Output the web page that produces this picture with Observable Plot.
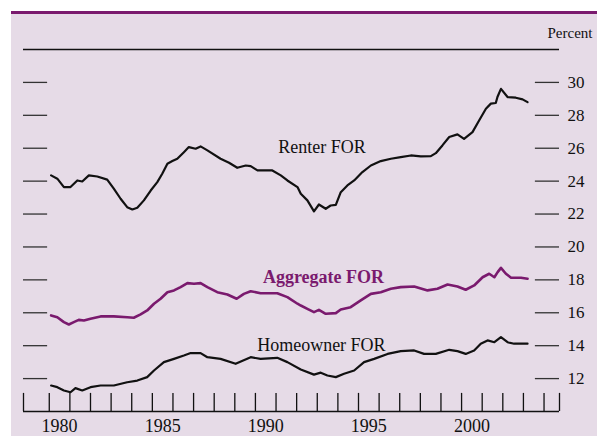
<!DOCTYPE html>
<html>
<head>
<meta charset="utf-8">
<script src="https://cdn.jsdelivr.net/npm/d3@7"></script>
<script src="https://cdn.jsdelivr.net/npm/@observablehq/plot@0.6"></script>
<style>
  html, body { margin: 0; padding: 0; background: #ffffff; width: 597px; height: 436px; overflow: hidden; }
  #panel { position: absolute; left: 11px; top: 11px; right: 0; bottom: 0; background: #e6dbe7; border-top: 3px solid #7a1a6e; }
  #chart { position: absolute; left: 0; top: 0; }
</style>
</head>
<body>
<div id="panel"></div>
<div id="chart"></div>
<script>
const renterYears = [1980.09,1980.39,1980.71,1981.03,1981.36,1981.6,1981.92,1982.33,1982.81,1983.13,1983.46,1983.78,1984.03,1984.27,1984.59,1984.92,1985.24,1985.48,1985.73,1985.97,1986.21,1986.53,1986.77,1987.1,1987.34,1987.67,1988.31,1988.72,1989.12,1989.53,1989.77,1990.1,1990.82,1991.23,1991.55,1992.04,1992.2,1992.52,1992.84,1993.08,1993.41,1993.65,1993.9,1994.14,1994.46,1994.79,1995.19,1995.6,1996.08,1996.57,1997.05,1997.54,1998.02,1998.51,1998.75,1999.07,1999.4,1999.8,2000.12,2000.53,2000.85,2001.18,2001.42,2001.66,2001.74,2001.91,2002.23,2002.63,2002.96,2003.2];
const renterValues = [24.35,24.15,23.64,23.64,24.04,23.98,24.35,24.28,24.09,23.54,22.93,22.42,22.28,22.38,22.83,23.43,23.94,24.45,25.06,25.22,25.36,25.76,26.07,25.97,26.11,25.87,25.36,25.12,24.81,24.95,24.91,24.65,24.65,24.35,24.04,23.64,23.23,22.83,22.16,22.58,22.32,22.52,22.56,23.33,23.74,24.04,24.55,24.95,25.22,25.36,25.46,25.56,25.5,25.52,25.7,26.17,26.68,26.84,26.57,26.98,27.69,28.4,28.71,28.75,29.11,29.61,29.11,29.07,28.97,28.8];

const aggregateYears = [1980.09,1980.39,1980.71,1980.95,1981.19,1981.43,1981.68,1982.0,1982.49,1983.13,1983.78,1984.1,1984.43,1984.75,1985.08,1985.4,1985.73,1986.05,1986.37,1986.7,1987.02,1987.34,1987.67,1988.15,1988.64,1989.09,1989.44,1989.77,1990.25,1991.06,1991.55,1992.04,1992.2,1992.52,1992.84,1993.08,1993.41,1993.9,1994.14,1994.62,1995.11,1995.6,1996.08,1996.57,1997.05,1997.7,1998.35,1998.83,1999.32,1999.8,2000.2,2000.61,2001.02,2001.34,2001.59,2001.75,2001.91,2002.15,2002.4,2002.88,2003.2];
const aggregateValues = [15.84,15.73,15.43,15.29,15.43,15.57,15.53,15.64,15.78,15.78,15.73,15.7,15.9,16.14,16.55,16.85,17.25,17.36,17.56,17.8,17.76,17.8,17.56,17.25,17.11,16.85,17.15,17.31,17.19,17.19,16.95,16.55,16.44,16.24,16.04,16.18,15.94,15.98,16.2,16.34,16.75,17.15,17.25,17.46,17.56,17.6,17.36,17.46,17.72,17.6,17.4,17.66,18.16,18.37,18.16,18.47,18.73,18.37,18.13,18.13,18.07];

const homeownerYears = [1980.09,1980.39,1980.71,1981.03,1981.27,1981.6,1982.0,1982.49,1983.13,1983.78,1984.27,1984.75,1985.08,1985.56,1986.05,1986.53,1986.86,1987.34,1987.67,1988.31,1989.04,1989.77,1990.25,1991.06,1991.55,1992.2,1992.84,1993.17,1993.49,1993.9,1994.3,1994.79,1995.27,1995.76,1996.41,1997.05,1997.7,1998.18,1998.75,1999.4,1999.8,2000.2,2000.61,2000.93,2001.26,2001.59,2001.91,2002.23,2002.55,2003.2];
const homeownerValues = [11.58,11.48,11.28,11.17,11.42,11.28,11.48,11.58,11.58,11.78,11.88,12.09,12.49,13.0,13.2,13.4,13.55,13.55,13.3,13.2,12.9,13.3,13.2,13.26,13.0,12.55,12.24,12.36,12.19,12.09,12.29,12.49,13.0,13.2,13.5,13.67,13.71,13.5,13.5,13.75,13.67,13.5,13.71,14.12,14.32,14.21,14.52,14.21,14.12,14.12];

const yTicks = [12,14,16,18,20,22,24,26,28,30];
const xTickYears = d3.range(1980, 2005);
const xLabelYears = [1980, 1985, 1990, 1995, 2000];
const seriesLabels = ["Renter FOR", "Aggregate FOR", "Homeowner FOR"];
const labelYears = [1993.23, 1993.3, 1993.2];
const labelValues = [26.05, 18.15, 14.0];

const xDomain = [1978.75, 2004.75];
const yDomain = [10, 32];

const toRows = (xs, ys) => xs.map((x, i) => ({x, y: ys[i]}));
const renter = toRows(renterYears, renterValues);
const aggregate = toRows(aggregateYears, aggregateValues);
const homeowner = toRows(homeownerYears, homeownerValues);
const labels = seriesLabels.map((t, i) => ({t, x: labelYears[i], y: labelValues[i]}));

const purple = "#7a1a6e";
const ink = "#111111";
const font = "'Liberation Serif', 'Times New Roman', serif";

const plot = Plot.plot({
  width: 597,
  height: 436,
  marginLeft: 23,
  marginRight: 38,
  marginTop: 49,
  marginBottom: 25,
  style: {background: "transparent", overflow: "visible", fontFamily: font},
  x: {domain: xDomain, axis: null},
  y: {domain: yDomain, axis: null},
  marks: [
    Plot.ruleY([yDomain[1]], {stroke: ink, strokeWidth: 1.3}),
    Plot.ruleY([yDomain[0]], {stroke: ink, strokeWidth: 1.3}),
    Plot.ruleX([xDomain[0], ...xTickYears, xDomain[1]], {y1: yDomain[0], y2: 11.1, stroke: ink, strokeWidth: 1.3}),
    Plot.ruleY(yTicks, {x1: xDomain[0], x2: 1979.92, stroke: "#333", strokeWidth: 1.3}),
    Plot.ruleY(yTicks, {x1: 2003.58, x2: xDomain[1], stroke: "#333", strokeWidth: 1.3}),
    Plot.text(yTicks, {x: xDomain[1], y: d => d, text: d => String(d), dx: 8, textAnchor: "start", fontSize: 17, fill: ink}),
    Plot.text(xLabelYears, {x: d => d + 0.5, y: yDomain[0], text: d => String(d), dy: 15, fontSize: 18, fill: ink}),
    Plot.text(["Percent"], {x: xDomain[1], y: yDomain[1], text: d => d, dx: -12, dy: -16, textAnchor: "start", fontSize: 15, fill: ink}),
    Plot.line(renter, {x: "x", y: "y", stroke: ink, strokeWidth: 2.2}),
    Plot.line(aggregate, {x: "x", y: "y", stroke: purple, strokeWidth: 2.6}),
    Plot.line(homeowner, {x: "x", y: "y", stroke: ink, strokeWidth: 2.2}),
    Plot.text(labels.filter(d => d.t !== "Aggregate FOR"), {x: "x", y: "y", text: "t", fontSize: 18, fill: ink, style: "letter-spacing:0.6px"}),
    Plot.text(labels.filter(d => d.t === "Aggregate FOR"), {x: "x", y: "y", text: "t", fontSize: 18, fontWeight: "bold", fill: purple, style: "letter-spacing:1px"})
  ]
});
document.getElementById("chart").appendChild(plot);
</script>
</body>
</html>
